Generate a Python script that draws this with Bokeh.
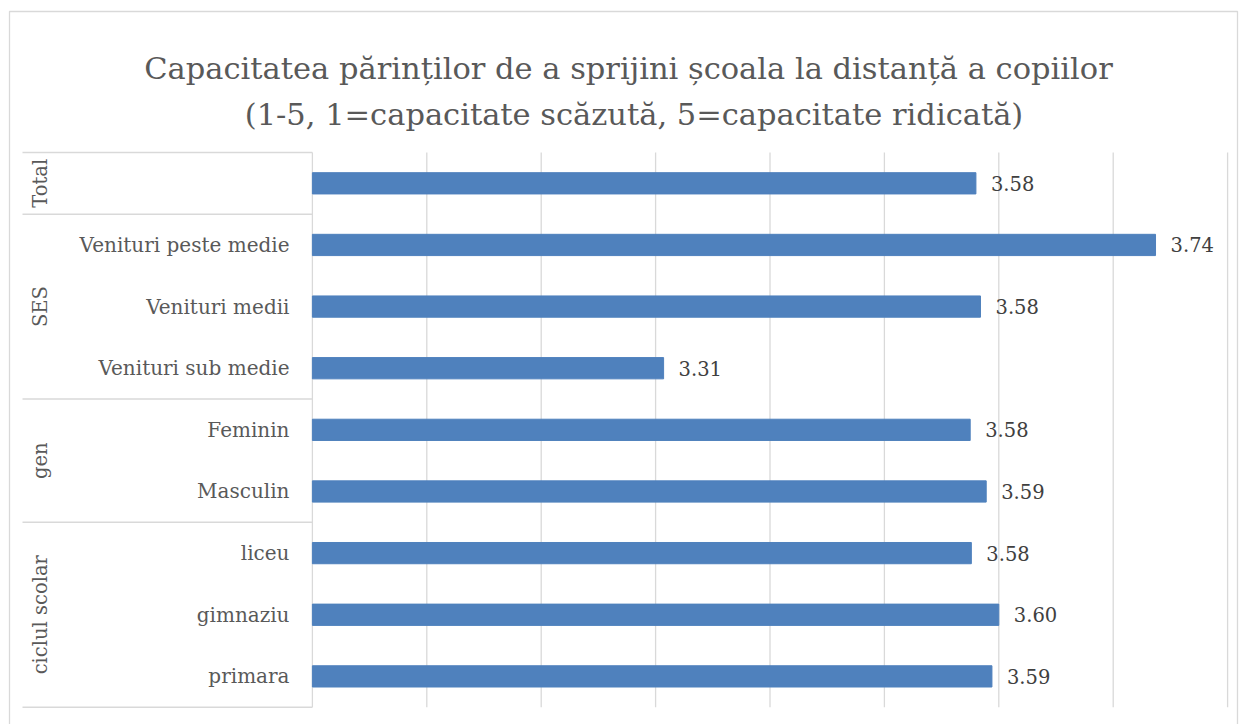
from bokeh.plotting import figure
from bokeh.models import ColumnDataSource, Range1d
from bokeh.core.properties import value
from bokeh.embed import file_html
from bokeh.resources import INLINE
import math

# ---- data ----
title_line1 = "Capacitatea părinților de a sprijini școala la distanță a copiilor"
title_line2 = "(1-5, 1=capacitate scăzută, 5=capacitate ridicată)"
groups = ["Total", "SES", "SES", "SES", "gen", "gen",
          "ciclul scolar", "ciclul scolar", "ciclul scolar"]
categories = ["", "Venituri peste medie", "Venituri medii", "Venituri sub medie",
              "Feminin", "Masculin", "liceu", "gimnaziu", "primara"]
values = [3.580, 3.737, 3.584, 3.307, 3.575, 3.589, 3.576, 3.600, 3.594]
value_labels = ["3.58", "3.74", "3.58", "3.31", "3.58", "3.59", "3.58", "3.60", "3.59"]
grid_ticks = [3.0, 3.1, 3.2, 3.3, 3.4, 3.5, 3.6, 3.7, 3.8]

# ---- layout constants (page pixels) ----
FONT = "DejaVu Serif"
W, H = 1240, 724
PAGE_L, PAGE_T = 0, 0
X0_PX, PPU = 311.9, 1144.0          # pixel of axis minimum, pixels per unit
PLOT_TOP, PLOT_BOTTOM = 152.0, 706.7
BORDER_L, BORDER_R, BORDER_T = 9, 1237, 11

n = len(categories)
RH = (PLOT_BOTTOM - PLOT_TOP) / n


def px(xpage):
    return grid_ticks[0] + (xpage - X0_PX) / PPU


def py(ypage):
    return (PLOT_BOTTOM - ypage) / RH


ys = [n - i - 0.5 for i in range(n)]

p = figure(width=W, height=H, output_backend="svg", toolbar_location=None,
           x_range=Range1d(px(PAGE_L), px(PAGE_L + W)),
           y_range=Range1d(py(PAGE_T + H), py(PAGE_T)),
           min_border=0, title=None)
p.outline_line_color = None
p.xaxis.visible = False
p.yaxis.visible = False
p.xgrid.visible = False
p.ygrid.visible = False

# chart border (top, left, right)
p.multi_line(xs=[[px(BORDER_L), px(BORDER_L), px(BORDER_R), px(BORDER_R)]],
             ys=[[py(PAGE_T + H + 5), py(BORDER_T), py(BORDER_T), py(PAGE_T + H + 5)]],
             line_color="#d9d9d9", line_width=1.3)

# vertical gridlines
p.segment(x0=grid_ticks, x1=grid_ticks, y0=[0] * len(grid_ticks), y1=[n] * len(grid_ticks),
          line_color="#d9d9d9", line_width=1.3)

# title
p.text(x=[px(628), px(633.5)], y=[py(67.7), py(114)], text=[title_line1, title_line2],
       text_align="center", text_baseline="alphabetic", text_font=value(FONT),
       text_font_size="30.5px", text_color="#595959")

src = ColumnDataSource(dict(y=ys, v=values, cat=categories, lab=value_labels,
                            left=[grid_ticks[0]] * n))
p.hbar(y="y", left="left", right="v", height=0.345, source=src,
       fill_color="#4f81bd", line_color="#4f81bd")

p.text(x="v", y="y", text="lab", source=src, x_offset=15,
       text_align="left", text_baseline="middle", text_font=value(FONT),
       text_font_size="19.5px", text_color="#404040")

p.text(x=[px(289)] * n, y=ys, text=categories, text_align="right",
       text_baseline="middle", text_font=value(FONT), text_font_size="20px",
       text_color="#595959")

# group labels and separators
group_names, group_centers, bounds = [], [], [n]
i = 0
while i < n:
    j = i
    while j < n and groups[j] == groups[i]:
        j += 1
    group_names.append(groups[i])
    group_centers.append(n - (i + j) / 2)
    bounds.append(n - j)
    i = j

p.text(x=[px(40)] * len(group_names), y=group_centers, text=group_names,
       angle=math.pi / 2, text_align="center", text_baseline="middle",
       text_font=value(FONT), text_font_size="19.5px", text_color="#595959")

p.segment(x0=[px(22)] * len(bounds), x1=[grid_ticks[0]] * len(bounds), y0=bounds, y1=bounds,
          line_color="#d9d9d9", line_width=1.5)

open("out.html", "w").write(file_html(p, INLINE))
